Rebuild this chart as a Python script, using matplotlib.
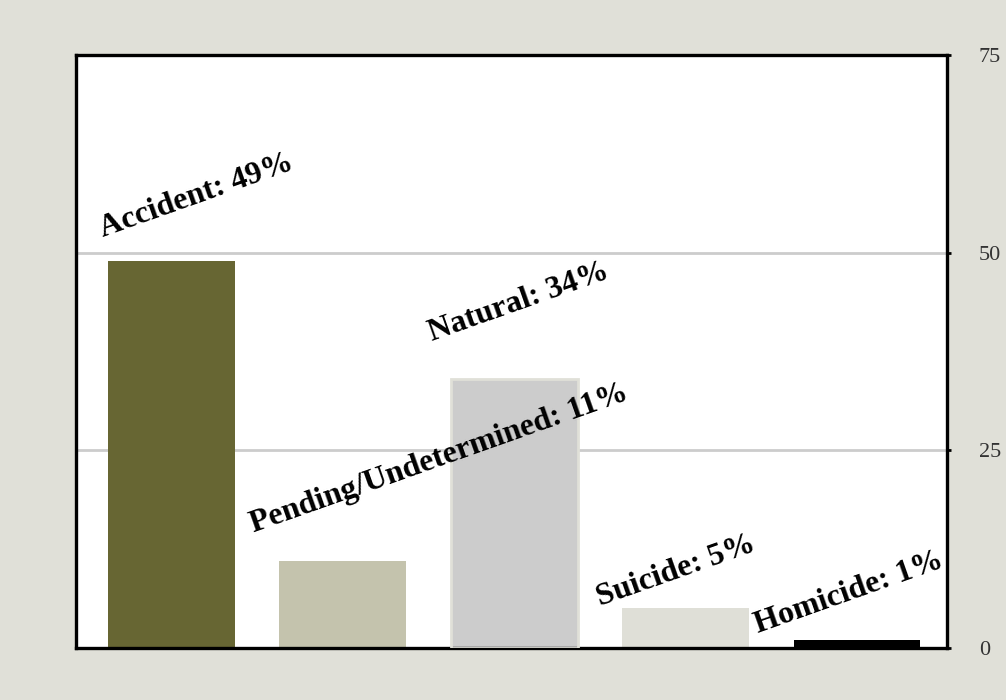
import matplotlib.pyplot as plt
import numpy as np

categories = ['Accident', 'Pending/Undetermined', 'Natural', 'Suicide', 'Homicide']
percents = [49, 11, 34, 5, 1]
bar_colors = ['#676633', '#c4c3ad', '#cccccc', '#dfdfd7', '#000000']
y_ticks = [0, 25, 50, 75]

bg = '#e0e0d8'

fig = plt.figure(figsize=(10.06, 7.0), dpi=100, facecolor=bg)
ax = fig.add_axes([0.0755, 0.0743, 0.8659, 0.8471])
ax.set_facecolor('white')

x = np.arange(len(categories))
ax.bar(x, percents, width=0.74, color=bar_colors, zorder=2)
# the Natural bar gets a thin pale outline
ax.bar(x[2], percents[2], width=0.74, color='none', edgecolor=bg, linewidth=2, zorder=3)

ax.set_xlim(-0.555, 4.525)
ax.set_ylim(0, 75)

# horizontal reference lines
for t in y_ticks[1:-1]:
    ax.axhline(t, color='#cccccc', linewidth=2, zorder=1)

# rotated value labels, anchored at their lower-left corner
label_dx = [0.1, -0.02, 0.02, 0.0, -0.08]
label_dy = [3.0, 3.6, 4.8, 0.3, 0.9]
for i, (cat, p) in enumerate(zip(categories, percents)):
    ax.text(i - 0.5 + label_dx[i], p + label_dy[i], f'{cat}: {p}%',
            rotation=19.5, rotation_mode='anchor', ha='left', va='baseline',
            fontsize=23, fontweight='bold', family='Liberation Serif',
            color='black', zorder=4)

ax.set_xticks([])
ax.yaxis.tick_right()
ax.set_yticks(y_ticks)
ax.set_yticklabels([str(t) for t in y_ticks], family='Liberation Serif',
                   fontsize=16, color='#333333')
ax.tick_params(axis='y', direction='out', length=3, width=2, pad=20, color='black')

for s in ax.spines.values():
    s.set_color('black')
    s.set_linewidth(2.4)

fig.savefig('out.png', dpi=100, facecolor=bg)
